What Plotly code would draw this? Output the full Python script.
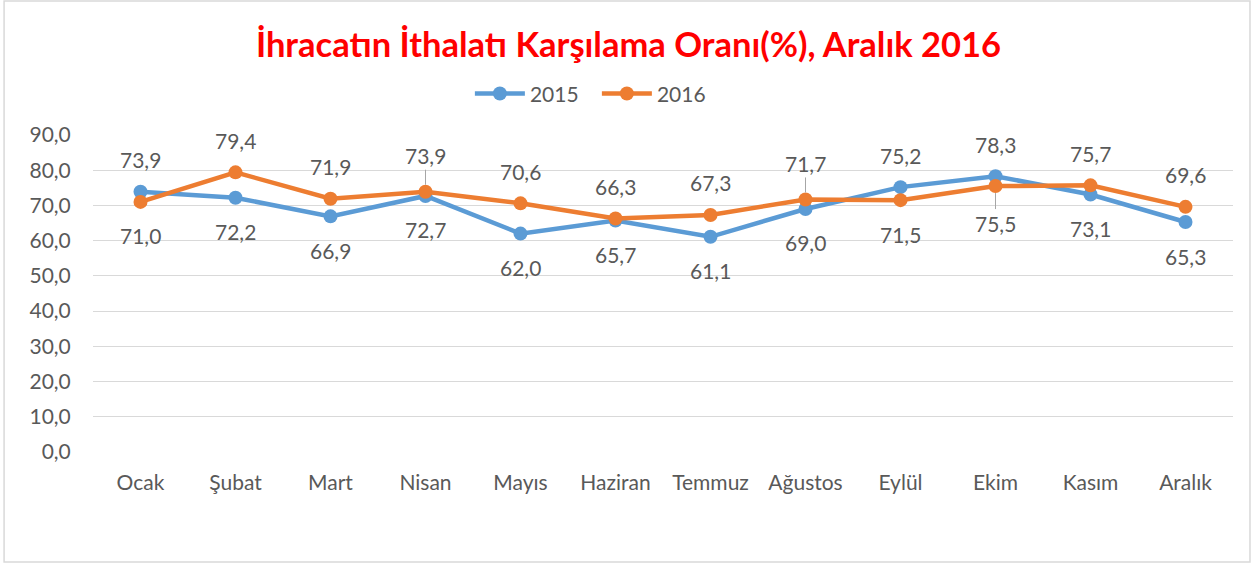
import plotly.graph_objects as go

# data
months = ["Ocak", "Şubat", "Mart", "Nisan", "Mayıs", "Haziran",
          "Temmuz", "Ağustos", "Eylül", "Ekim", "Kasım", "Aralık"]
y2015 = [73.9, 72.2, 66.9, 72.7, 62.0, 65.7, 61.1, 69.0, 75.2, 78.3, 73.1, 65.3]
y2016 = [71.0, 79.4, 71.9, 73.9, 70.6, 66.3, 67.3, 71.7, 71.5, 75.5, 75.7, 69.6]
y_ticks = [0, 10, 20, 30, 40, 50, 60, 70, 80, 90]

BLUE = "#5B9BD5"
ORANGE = "#ED7D31"
TXT = "#595959"
FONT = "Lato"
FS = 21

# labels that were nudged in the original and got a leader line
leader = {("2016", "Nisan"), ("2016", "Ağustos"), ("2016", "Ekim")}

fig = go.Figure()
for name, vals, col in [("2015", y2015, BLUE), ("2016", y2016, ORANGE)]:
    fig.add_trace(go.Scatter(
        x=months, y=vals, name=name, mode="lines+markers",
        line=dict(color=col, width=4.5),
        marker=dict(color=col, size=14),
    ))

annotations = []
for i, m in enumerate(months):
    for name, vals, other in [("2015", y2015, y2016), ("2016", y2016, y2015)]:
        v = vals[i]
        above = v > other[i]
        txt = f"{v:.1f}".replace(".", ",")
        if (name, m) in leader:
            annotations.append(dict(
                x=m, y=v, text=txt, showarrow=True, arrowhead=0,
                arrowwidth=1, arrowcolor="#A6A6A6", standoff=7,
                ax=0, ay=-36 if above else 37,
                font=dict(family=FONT, size=FS, color=TXT),
            ))
        else:
            annotations.append(dict(
                x=m, y=v, text=txt, showarrow=False,
                yshift=32 if above else -34,
                font=dict(family=FONT, size=FS, color=TXT),
            ))

fig.update_layout(
    width=1257, height=565,
    margin=dict(l=93, r=24, t=135, b=113),
    paper_bgcolor="white", plot_bgcolor="white",
    separators=",.",
    title=dict(
        text="<b>İhracatın İthalatı Karşılama Oranı(%), Aralık 2016</b>",
        x=0.5, xanchor="center", y=0.92, yanchor="middle",
        font=dict(family=FONT, size=34.5, color="#FF0000"),
    ),
    legend=dict(
        orientation="h", x=0.442, xanchor="center", y=1.13, yanchor="middle",
        font=dict(family=FONT, size=FS, color=TXT),
        itemwidth=50, entrywidth=62, entrywidthmode="pixels",
    ),
    xaxis=dict(
        type="category", range=[-0.5, 11.5], showgrid=False,
        showline=False, zeroline=False,
        ticks="outside", ticklen=12, tickcolor="rgba(0,0,0,0)",
        tickfont=dict(family=FONT, size=FS, color=TXT),
    ),
    yaxis=dict(
        range=[0, 90], tickvals=y_ticks, tickformat=".1f",
        showgrid=True, gridcolor="#D9D9D9", gridwidth=1.3,
        zeroline=False, showline=False,
        ticks="outside", ticklen=17, tickcolor="rgba(0,0,0,0)",
        tickfont=dict(family=FONT, size=FS, color=TXT),
    ),
    annotations=annotations,
    shapes=[dict(
        type="rect", xref="paper", yref="paper",
        x0=-0.078, x1=1.0149, y0=-0.347, y1=1.4227,
        line=dict(color="#D9D9D9", width=1.5),
    )],
)

# drop the default page margin so the figure sits at the window's corner
fig.write_html("out.html", config={"displayModeBar": False},
               post_script="document.body.style.margin='0';")
